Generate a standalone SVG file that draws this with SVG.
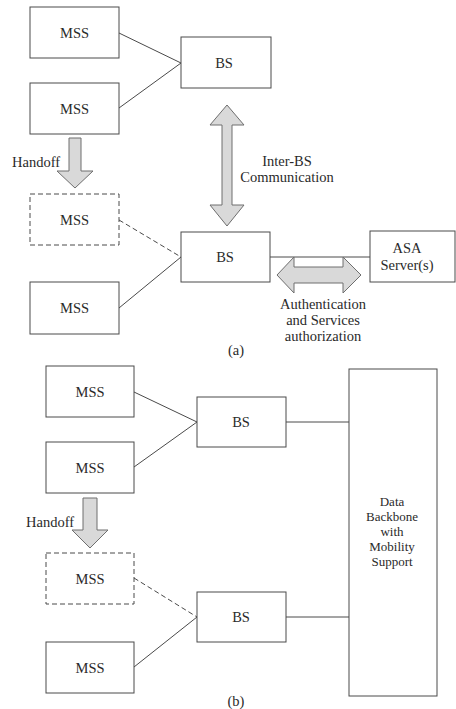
<svg xmlns="http://www.w3.org/2000/svg" width="456" height="709" viewBox="0 0 456 709">
  <style>
    .box { fill: #ffffff; stroke: #4a4a4a; stroke-width: 1; }
    .dash { fill: #ffffff; stroke: #4a4a4a; stroke-width: 1; stroke-dasharray: 5 3; }
    .lbl { font-family: "Liberation Serif", "Times New Roman", serif; font-size: 14.5px; fill: #2a2a2a; text-anchor: middle; }
    .stack { font-family: "Liberation Serif", "Times New Roman", serif; font-size: 13px; fill: #2a2a2a; text-anchor: middle; }
    .note { font-family: "Liberation Serif", "Times New Roman", serif; font-size: 14.5px; fill: #2a2a2a; }
    .wire { stroke: #4a4a4a; stroke-width: 1; fill: none; }
    .wire-d { stroke: #4a4a4a; stroke-width: 1; fill: none; stroke-dasharray: 5 3; }
    .fat { fill: #d9d9d9; stroke: #6e6e6e; stroke-width: 1; }
  </style>
  <rect width="456" height="709" fill="#ffffff"/>

  <!-- connectors -->
  <g id="connectors">
    <line class="wire" x1="119" y1="33" x2="181" y2="63"/>
    <line class="wire" x1="119" y1="108" x2="181" y2="63"/>
    <line class="wire-d" x1="119" y1="220" x2="181" y2="257"/>
    <line class="wire" x1="119" y1="308" x2="181" y2="257"/>
    <line class="wire" x1="270" y1="257" x2="370" y2="257"/>
    <line class="wire" x1="134" y1="392" x2="197" y2="422"/>
    <line class="wire" x1="134" y1="467" x2="197" y2="422"/>
    <line class="wire-d" x1="134" y1="578" x2="197" y2="617"/>
    <line class="wire" x1="134" y1="667" x2="197" y2="617"/>
    <line class="wire" x1="286" y1="422" x2="349" y2="422"/>
    <line class="wire" x1="286" y1="617" x2="349" y2="617"/>
  </g>

  <!-- block arrows -->
  <g id="handoff-a">
    <polygon class="fat" points="69,138 81,138 81,171 93,171 75,188 57,171 69,171"/>
    <text class="note" x="12" y="167">Handoff</text>
  </g>
  <g id="inter-bs">
    <polygon class="fat" points="227,105 244,125 232,125 232,205 244,205 227,226 210,205 222,205 222,125 210,125"/>
    <text class="lbl" x="287" y="166">Inter-BS</text>
    <text class="lbl" x="287" y="182">Communication</text>
  </g>
  <g id="auth">
    <polygon class="fat" points="277,275 294,257 294,267 343,267 343,257 361,275 343,293 343,283 294,283 294,293"/>
    <text class="lbl" x="323" y="309">Authentication</text>
    <text class="lbl" x="323" y="325">and Services</text>
    <text class="lbl" x="323" y="341">authorization</text>
  </g>
  <g id="handoff-b">
    <polygon class="fat" points="83,498 97,498 97,530 108,530 90,548 72,530 83,530"/>
    <text class="note" x="26" y="527">Handoff</text>
  </g>

  <!-- (a) nodes -->
  <g id="mss-a1"><rect class="box" x="30" y="7" width="89" height="51"/><text class="lbl" x="74.5" y="38">MSS</text></g>
  <g id="mss-a2"><rect class="box" x="30" y="83" width="89" height="51"/><text class="lbl" x="74.5" y="114">MSS</text></g>
  <g id="mss-a3"><rect class="dash" x="30" y="194" width="89" height="51"/><text class="lbl" x="74.5" y="225">MSS</text></g>
  <g id="mss-a4"><rect class="box" x="30" y="282" width="89" height="52"/><text class="lbl" x="74.5" y="313">MSS</text></g>
  <g id="bs-a1"><rect class="box" x="181" y="37" width="90" height="51"/><text class="lbl" x="224" y="68">BS</text></g>
  <g id="bs-a2"><rect class="box" x="181" y="232" width="89" height="50"/><text class="lbl" x="225" y="262">BS</text></g>
  <g id="asa"><rect class="box" x="370" y="231" width="85" height="51"/><text class="lbl" x="407" y="253">ASA</text><text class="lbl" x="407" y="270">Server(s)</text></g>
  <text class="lbl" x="236" y="355">(a)</text>

  <!-- (b) nodes -->
  <g id="mss-b1"><rect class="box" x="46" y="366" width="88" height="51"/><text class="lbl" x="90" y="397">MSS</text></g>
  <g id="mss-b2"><rect class="box" x="46" y="442" width="88" height="51"/><text class="lbl" x="90" y="473">MSS</text></g>
  <g id="mss-b3"><rect class="dash" x="46" y="553" width="88" height="51"/><text class="lbl" x="90" y="584">MSS</text></g>
  <g id="mss-b4"><rect class="box" x="46" y="642" width="88" height="51"/><text class="lbl" x="90" y="673">MSS</text></g>
  <g id="bs-b1"><rect class="box" x="197" y="397" width="89" height="50"/><text class="lbl" x="241" y="427">BS</text></g>
  <g id="bs-b2"><rect class="box" x="197" y="592" width="89" height="50"/><text class="lbl" x="241" y="622">BS</text></g>
  <g id="backbone">
    <rect class="box" x="349" y="369" width="88" height="327"/>
    <text class="stack" x="392" y="506">Data</text>
    <text class="stack" x="392" y="521">Backbone</text>
    <text class="stack" x="392" y="536">with</text>
    <text class="stack" x="392" y="551">Mobility</text>
    <text class="stack" x="392" y="566">Support</text>
  </g>
  <text class="lbl" x="236" y="706">(b)</text>
</svg>
